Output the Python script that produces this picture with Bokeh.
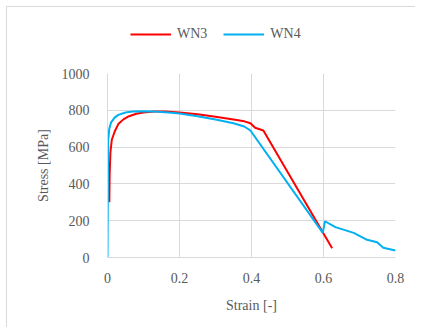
from bokeh.plotting import figure
from bokeh.layouts import column
from bokeh.models import Legend, LegendItem, FixedTicker, Range1d
from bokeh.embed import file_html
from bokeh.resources import INLINE

wn3_strain = [0.005, 0.006, 0.008, 0.012, 0.02, 0.03, 0.045, 0.06, 0.08, 0.1, 0.13, 0.16, 0.2, 0.25, 0.3, 0.35, 0.38, 0.397, 0.41, 0.433, 0.624]
wn3_stress = [300, 450, 570, 640, 685, 725, 752, 768, 781, 788, 793, 793, 788, 778, 765, 750, 740, 730, 705, 690, 50]

wn4_strain = [0.0, 0.001, 0.002, 0.005, 0.01, 0.02, 0.03, 0.05, 0.07, 0.1, 0.13, 0.17, 0.2, 0.25, 0.3, 0.35, 0.38, 0.397, 0.598, 0.604, 0.633, 0.684, 0.721, 0.749, 0.766, 0.8]
wn4_stress = [0, 400, 640, 700, 735, 760, 775, 788, 793, 795, 793, 788, 782, 768, 750, 730, 712, 690, 134, 197, 165, 134, 96, 83, 53, 38]

series_names = ["WN3", "WN4"]
series_colors = ["#ff0000", "#00b0f0"]

x_ticks = [0, 0.2, 0.4, 0.6, 0.8]
y_ticks = [0, 200, 400, 600, 800, 1000]

FONT = "'Liberation Serif', 'Times New Roman', serif"
GRAY = "#595959"
GRID = "#d9d9d9"

# legend strip (its lines lie outside its view; only the legend shows)
leg = figure(width=408, height=50, output_backend="svg", toolbar_location=None,
             x_range=Range1d(0, 1), y_range=Range1d(5000, 6000),
             min_border_left=0, min_border_right=0, min_border_top=0, min_border_bottom=0)
leg.axis.visible = False
leg.grid.visible = False
leg.outline_line_color = None
lr = [leg.line(wn3_strain, wn3_stress, line_color=series_colors[0], line_width=2),
      leg.line(wn4_strain, wn4_stress, line_color=series_colors[1], line_width=2)]
legend = Legend(items=[LegendItem(label=n, renderers=[r]) for n, r in zip(series_names, lr)],
                orientation="horizontal", location=(23, 13),
                label_text_font=FONT, label_text_font_size="14px", label_text_color=GRAY,
                glyph_width=41, label_standoff=6, spacing=16, padding=0, margin=0,
                background_fill_alpha=0, border_line_color=None)
leg.add_layout(legend)

# main chart
p = figure(width=408, height=270, output_backend="svg", toolbar_location=None,
           x_range=Range1d(0, 0.8), y_range=Range1d(0, 1000),
           min_border_left=100, min_border_top=16, min_border_right=20, min_border_bottom=70)
p.outline_line_color = None

p.line(wn3_strain, wn3_stress, line_color=series_colors[0], line_width=2)
p.line(wn4_strain, wn4_stress, line_color=series_colors[1], line_width=2)

p.xaxis.ticker = FixedTicker(ticks=x_ticks)
p.yaxis.ticker = FixedTicker(ticks=y_ticks)
p.xaxis.major_label_overrides = {0: "0", 0.2: "0.2", 0.4: "0.4", 0.6: "0.6", 0.8: "0.8"}
for ax in (p.xaxis, p.yaxis):
    ax.major_tick_line_color = None
    ax.minor_tick_line_color = None
    ax.axis_line_color = GRID
    ax.major_label_text_font = FONT
    ax.major_label_text_font_size = "14px"
    ax.major_label_text_color = GRAY
    ax.axis_label_text_font = FONT
    ax.axis_label_text_font_size = "14px"
    ax.axis_label_text_color = GRAY
    ax.axis_label_text_font_style = "normal"
p.xaxis.axis_label = "Strain [-]"
p.yaxis.axis_label = "Stress [MPa]"
p.xaxis.major_label_standoff = 9
p.yaxis.major_label_standoff = 12
p.xaxis.axis_label_standoff = 12
p.yaxis.axis_label_standoff = 8

p.xgrid.grid_line_color = GRID
p.ygrid.grid_line_color = GRID

layout = column(leg, p, spacing=0)
layout.styles = {"border-top": "1px solid #d9d9d9", "border-left": "1px solid #d9d9d9",
                 "margin-left": "6px", "margin-top": "6px"}

open("out.html", "w").write(file_html(layout, INLINE))
